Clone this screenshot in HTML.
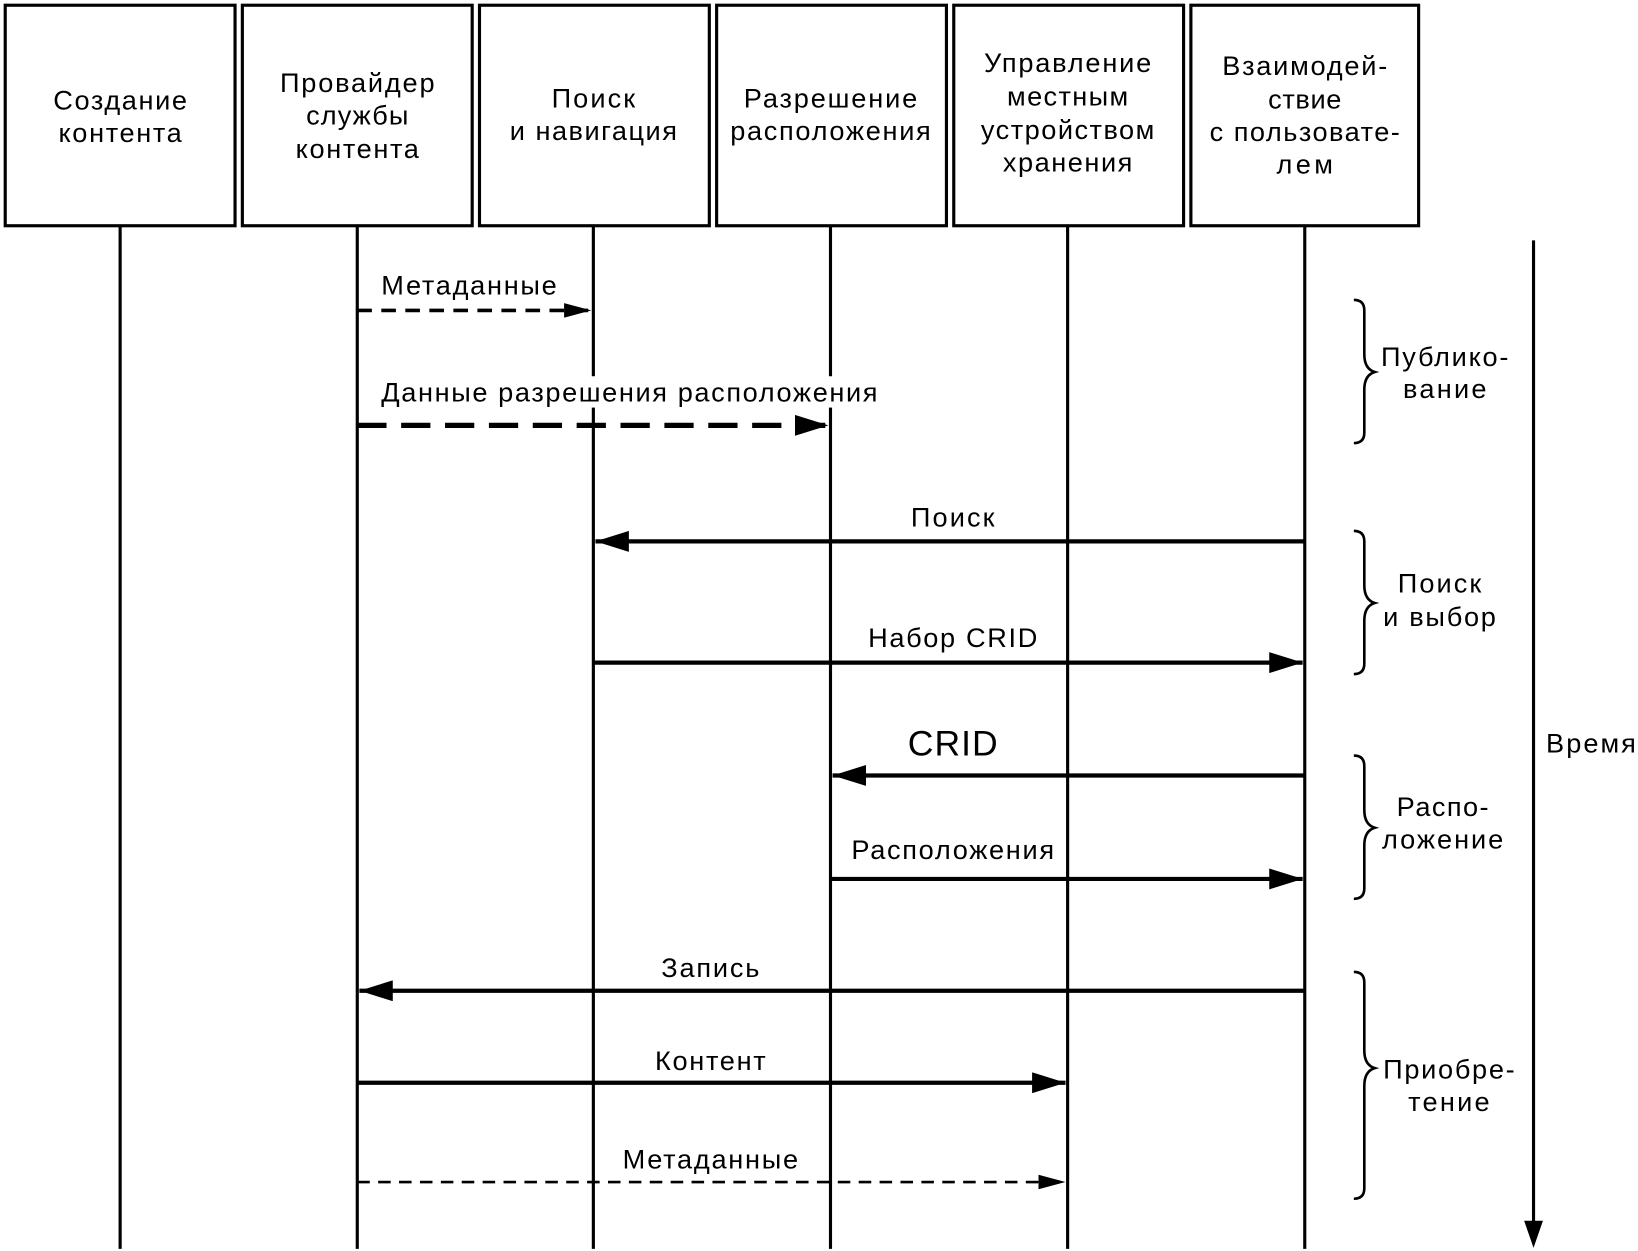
<!DOCTYPE html>
<html><head><meta charset="utf-8"><style>html,body{margin:0;padding:0;background:#fff}svg{display:block}text{font-family:"Liberation Sans",Arial,sans-serif;font-size:26px}</style></head><body>
<svg width="1638" height="1251" viewBox="0 0 1568 1197" preserveAspectRatio="none" xmlns="http://www.w3.org/2000/svg">
<defs>
<marker id="a" markerWidth="32" markerHeight="20" refX="32" refY="10" orient="auto" markerUnits="userSpaceOnUse" viewBox="0 0 32 20"><path d="M0,0L32,10L0,20z" fill="#000" stroke="none"/></marker>
<marker id="s" markerWidth="26" markerHeight="14" refX="26" refY="7" orient="auto" markerUnits="userSpaceOnUse" viewBox="0 0 26 14"><path d="M0,0L26,7L0,14z" fill="#000" stroke="none"/></marker>
</defs>
<rect width="1568" height="1197" fill="#fff"/>
<g fill="none" stroke="#000" stroke-width="3">
<rect x="5" y="5" width="220" height="211"/>
<rect x="232" y="5" width="220" height="211"/>
<rect x="459" y="5" width="220" height="211"/>
<rect x="686" y="5" width="220" height="211"/>
<rect x="913" y="5" width="220" height="211"/>
<rect x="1140" y="5" width="218" height="211"/>
<path d="M115 216V1195M342 216V1195M568 216V1195M795 216V1195M1022 216V1195M1249 216V1195"/>
<path d="M1468 230V1175"/>
</g>
<path d="M1459 1168L1477 1168L1468 1194z"/>
<g text-anchor="middle">
<text x="115" y="105" textLength="128">Создание</text><text x="115" y="136" textLength="118">контента</text>
<text x="342" y="88" textLength="148">Провайдер</text><text x="342" y="119" textLength="98">службы</text><text x="342" y="151" textLength="118">контента</text>
<text x="568" y="103" textLength="80">Поиск</text><text x="568" y="134" textLength="160">и навигация</text>
<text x="795" y="103" textLength="166">Разрешение</text><text x="795" y="134" textLength="192">расположения</text>
<text x="1022" y="69" textLength="160">Управление</text><text x="1022" y="101" textLength="116">местным</text><text x="1022" y="133" textLength="166">устройством</text><text x="1022" y="164" textLength="124">хранения</text>
<text x="1249" y="72" textLength="158">Взаимодей-</text><text x="1249" y="104" textLength="70">ствие</text><text x="1249" y="135" textLength="182">с пользовате-</text><text x="1249" y="166" textLength="54">лем</text>
</g>
<rect x="360" y="360" width="485" height="30" fill="#fff"/>
<text x="365" y="282" textLength="168">Метаданные</text>
<text x="365" y="384" textLength="475">Данные разрешения расположения</text>
<g stroke="#000" fill="none">
<path d="M342 297H566" stroke-width="3.5" stroke-dasharray="14,9" marker-end="url(#s)"/>
<path d="M342 407H793" stroke-width="5" stroke-dasharray="28,14" marker-end="url(#a)"/>
<path d="M1249 518H570" stroke-width="4" marker-end="url(#a)"/>
<path d="M568 634H1247" stroke-width="4" marker-end="url(#a)"/>
<path d="M1249 742H797" stroke-width="4" marker-end="url(#a)"/>
<path d="M795 841H1247" stroke-width="4" marker-end="url(#a)"/>
<path d="M1249 948H344" stroke-width="4" marker-end="url(#a)"/>
<path d="M342 1036H1020" stroke-width="4" marker-end="url(#a)"/>
<path d="M342 1131H1020" stroke-width="2.5" stroke-dasharray="12,8" marker-end="url(#s)"/>
</g>
<g text-anchor="middle">
<text x="912" y="504" textLength="80">Поиск</text>
<text x="912" y="619" textLength="162">Набор CRID</text>
<text x="912" y="723" style="font-size:34px" textLength="86">CRID</text>
<text x="912" y="822" textLength="194">Расположения</text>
<text x="680" y="935" textLength="94">Запись</text>
<text x="680" y="1024" textLength="106">Контент</text>
<text x="680" y="1118" textLength="168">Метаданные</text>
<text x="1383" y="350" textLength="122">Публико-</text><text x="1383" y="381" textLength="80">вание</text>
<text x="1378" y="567" textLength="80">Поиск</text><text x="1378" y="599" textLength="108">и выбор</text>
<text x="1381" y="781" textLength="88">Распо-</text><text x="1381" y="812" textLength="116">ложение</text>
<text x="1387" y="1032" textLength="126">Приобре-</text><text x="1387" y="1063" textLength="78">тение</text>
</g>
<text x="1480" y="720" textLength="86">Время</text>
<g fill="none" stroke="#000" stroke-width="2.5">
<path d="M1296 287q10 0 10 10v42q0 14 10 17q-10 3 -10 17v41q0 10 -10 10"/>
<path d="M1296 508q10 0 10 10v42q0 14 10 17q-10 3 -10 17v41q0 10 -10 10"/>
<path d="M1296 723q10 0 10 10v42q0 14 10 17q-10 3 -10 17v41q0 10 -10 10"/>
<path d="M1296 930q10 0 10 10v65q0 14 10 17q-10 3 -10 17v98q0 10 -10 10"/>
</g>
</svg>
</body></html>
